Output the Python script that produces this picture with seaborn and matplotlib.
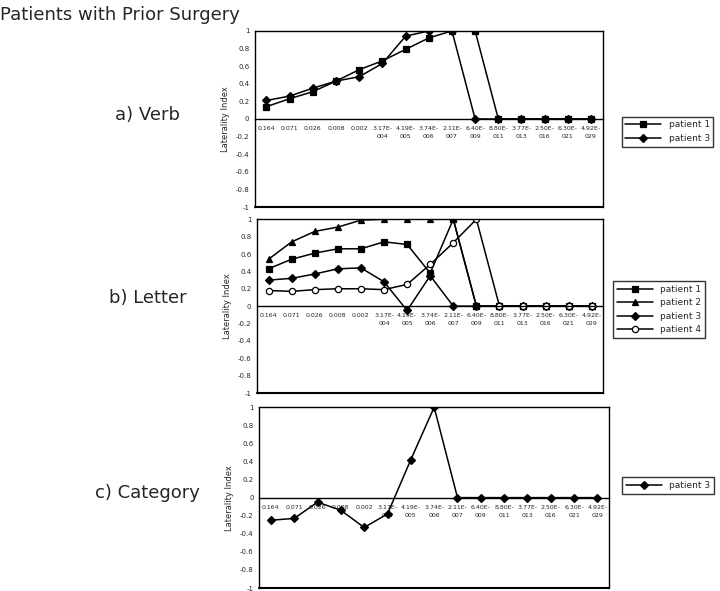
import numpy as np
import pandas as pd
import seaborn as sns
import matplotlib.pyplot as plt

sns.set_style("white")
plt.rcParams['font.family'] = ['DejaVu Sans']

thresholds = ["0.164", "0.071", "0.026", "0.008", "0.002", "3.17E-\n004", "4.19E-\n005",
              "3.74E-\n006", "2.11E-\n007", "6.40E-\n009", "8.80E-\n011", "3.77E-\n013",
              "2.50E-\n016", "6.30E-\n021", "4.92E-\n029"]
y_ticks = [-1, -0.8, -0.6, -0.4, -0.2, 0, 0.2, 0.4, 0.6, 0.8, 1]

verb_p1 = [0.14, 0.23, 0.31, 0.43, 0.56, 0.66, 0.79, 0.92, 1.0, 1.0, 0, 0, 0, 0, 0]
verb_p3 = [0.21, 0.26, 0.35, 0.43, 0.48, 0.63, 0.94, 1.0, 1.0, 0, 0, 0, 0, 0, 0]

letter_p1 = [0.43, 0.54, 0.61, 0.66, 0.66, 0.74, 0.71, 0.38, 1.0, 0, 0, 0, 0, 0, 0]
letter_p2 = [0.54, 0.74, 0.86, 0.91, 0.99, 1.0, 1.0, 1.0, 1.0, 0, 0, 0, 0, 0, 0]
letter_p3 = [0.30, 0.32, 0.37, 0.43, 0.44, 0.28, -0.05, 0.35, 0, 0, 0, 0, 0, 0, 0]
letter_p4 = [0.18, 0.17, 0.19, 0.20, 0.20, 0.19, 0.25, 0.48, 0.73, 1.0, 0, 0, 0, 0, 0]

category_p3 = [-0.25, -0.23, -0.05, -0.14, -0.33, -0.18, 0.42, 1.0, 0, 0, 0, 0, 0, 0, 0]

styles = {
    "patient 1": dict(marker="s", markersize=4.5, markerfacecolor="black"),
    "patient 2": dict(marker="^", markersize=5, markerfacecolor="black"),
    "patient 3": dict(marker="D", markersize=4, markerfacecolor="black"),
    "patient 4": dict(marker="o", markersize=4.5, markerfacecolor="white"),
}

panels = [
    ("a) Verb", {"patient 1": verb_p1, "patient 3": verb_p3},
     [0.354, 0.6497, 0.483, 0.298], (0.997, 0.81)),
    ("b) Letter", {"patient 1": letter_p1, "patient 2": letter_p2,
                   "patient 3": letter_p3, "patient 4": letter_p4},
     [0.357, 0.335, 0.481, 0.294], (0.985, 0.532)),
    ("c) Category", {"patient 3": category_p3},
     [0.36, 0.005, 0.486, 0.306], (0.998, 0.2)),
]
label_y = [0.805, 0.495, 0.165]

fig = plt.figure(figsize=(7.2, 5.91), dpi=100)
fig.text(0.0, 0.975, "Patients with Prior Surgery", fontsize=13, ha="left", va="center")

x = np.arange(len(thresholds))
for (name, series, rect, leg_pos), ly in zip(panels, label_y):
    ax = fig.add_axes(rect)
    for pname, vals in series.items():
        df = pd.DataFrame({"x": x, "y": vals})
        sns.lineplot(data=df, x="x", y="y", ax=ax, color="black", linewidth=1.1,
                     markeredgecolor="black", markeredgewidth=0.9, label=pname,
                     **styles[pname])
    ax.spines["bottom"].set_position(("data", 0))
    ax.set_xlim(-0.5, len(thresholds) - 0.5)
    ax.set_ylim(-1, 1)
    ax.set_yticks(y_ticks)
    ax.set_yticklabels([f"{v:g}" for v in y_ticks], fontsize=5)
    ax.set_xticks(x)
    ax.set_xticklabels(thresholds, fontsize=4.5, linespacing=1.8)
    for s in ax.spines.values():
        s.set_color("black")
        s.set_linewidth(1)
    ax.axhline(-1, color="black", linewidth=1.5, clip_on=False)
    ax.tick_params(axis="x", length=2, pad=4, direction="inout")
    ax.tick_params(axis="y", length=0, pad=4)
    ax.set_xlabel("")
    ax.set_ylabel("Laterality Index", fontsize=6)
    leg = ax.legend(loc="upper right", bbox_to_anchor=leg_pos,
                    bbox_transform=fig.transFigure, fontsize=6.5,
                    frameon=True, fancybox=False, edgecolor="black",
                    handlelength=4, borderpad=0.4, labelspacing=0.5)
    leg.get_frame().set_linewidth(1)
    fig.text(0.205, ly, name, fontsize=13, ha="center", va="center")

fig.savefig("out.png", dpi=100)
